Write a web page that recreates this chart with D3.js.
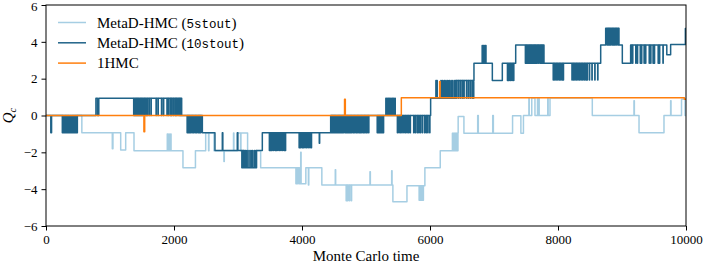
<!DOCTYPE html>
<html>
<head>
<meta charset="utf-8">
<script src="https://cdn.jsdelivr.net/npm/d3@7"></script>
<style>
  html, body { margin: 0; padding: 0; background: #fff; }
  svg text { font-family: "Liberation Serif", "Times New Roman", serif; fill: #000; }
  .mono { font-family: "Liberation Mono", "DejaVu Sans Mono", monospace; }
</style>
</head>
<body>
<div id="chart"></div>
<script>
'use strict'

// step breakpoints [time, Q] for each run
let steps5 = [
  [0, 0], [560, -0.93], [1167, -1.88], [1245, -0.93], [1375, -1.91], [2140, -2.84],
  [2335, -1.91], [2495, -0.93], [2625, -1.91], [2990, -0.95], [3150, -1.91],
  [3354, -2.84], [3960, -3.7], [4060, -2.84], [4310, -3.78], [5420, -4.68],
  [5640, -3.82], [5920, -2.84], [6160, -1.91], [6350, -0.97], [6440, -0.05],
  [6530, -0.97], [7290, -0.02], [7420, -0.97], [7460, 0], [7590, 0.95], [7640, 0],
  [7875, 0.95], [8536, 0], [9266, -0.93], [9656, 0], [9930, 0.88], [9985, 0]
]
let steps10 = [
  [0, 0], [255, -0.93], [490, 0], [780, 0.93], [805, 0], [825, 0.93], [2120, 0],
  [2443, -0.93], [2640, -1.9], [3100, -2.84], [3290, -1.9], [3380, -0.93],
  [4448, 0], [6010, 0.93], [6400, 1.9], [6687, 2.84], [6974, 1.9], [7130, 2.84],
  [7339, 3.83], [7781, 2.84], [8667, 3.83], [8745, 4.74], [8953, 3.83], [9005, 2.84],
  [9135, 3.83], [9700, 3.3], [9760, 3.85], [9990, 4.72], [9998, 3.9]
]
let steps1 = [[0, 0], [5552, 0.97], [9975, 0.88]]

// short excursions: [level, width, times]
let spikes5 = [
  [-1.8, 10, [1036]],
  [-1.0, 6, [1895, 1920, 1948]],
  [-1.91, 6, [2540]],
  [-2.5, 6, [2780]],
  [-0.95, 6, [2930]],
  [-1.91, 6, [3040]],
  [-3.7, 5, [3905, 3925, 3950]],
  [-2.0, 6, [3980]],
  [-3.78, 6, [4100]],
  [-2.95, 6, [4520]],
  [-4.63, 5, [4690, 4712, 4740, 4770]],
  [-3.05, 6, [5062]],
  [-3.0, 6, [5401]],
  [-4.6, 5, [5830, 5850, 5872, 5892]],
  [-1.91, 5, [6355, 6375, 6395, 6415, 6432]],
  [0, 10, [6745, 6980]],
  [0.95, 6, [7545, 7680, 7700, 7840]],
  [0.8, 6, [9187, 9760]]
]
let spikes10 = [
  [-0.93, 12, [75]],
  [0, 6, [262, 280, 298, 315, 335, 352, 372, 390, 410, 428, 446, 462, 478]],
  [0, 5, [1370, 1390, 1408, 1428, 1448, 1470, 1490, 1512, 1535, 1558, 1580]],
  [0, 4, [1610, 1640, 1720, 1750, 1805, 1835]],
  [0, 4, [1890, 1915, 1945, 1962, 1990, 2018, 2035, 2062, 2085, 2105]],
  [-0.93, 5, [2205, 2225, 2245, 2265, 2290, 2310, 2335, 2355, 2378, 2398, 2415]],
  [-0.93, 8, [2755, 2990]],
  [-2.84, 5, [3060, 3080]],
  [-1.9, 4, [3115, 3140, 3170, 3200, 3225, 3255, 3280]],
  [-1.9, 4, [3490, 3510, 3530, 3555, 3580, 3600, 3622, 3648, 3670, 3695, 3720, 3740]],
  [-1.75, 4, [3955, 3975, 4000, 4020, 4045, 4070, 4095, 4122, 4145]],
  [-1.5, 6, [4270]],
  [-0.93, 5, [4455, 4472, 4490, 4508, 4525, 4545, 4565, 4585, 4605, 4625, 4645, 4670,
    4690, 4710, 4730, 4750, 4772, 4795, 4815, 4840, 4862, 4885, 4905, 4925,
    4950, 4972, 4995, 5015, 5040]],
  [-0.93, 5, [5175, 5192, 5212, 5230, 5250, 5270]],
  [0.93, 5, [5310, 5328, 5348, 5368, 5388, 5410, 5430, 5452]],
  [-0.93, 4, [5490, 5515, 5540, 5562, 5590, 5615, 5640, 5665, 5690,
    5745, 5770, 5800, 5825, 5850, 5880, 5915, 5940, 5965, 5995]],
  [1.9, 5, [6092, 6108]],
  [1.9, 4, [6170, 6195, 6222, 6248, 6275, 6300, 6328, 6355, 6385]],
  [0.93, 4, [6415, 6445, 6475, 6505, 6530, 6570, 6600, 6630, 6660, 6680]],
  [3.8, 5, [6815, 6835, 6855, 6870]],
  [1.9, 5, [7210, 7232, 7255, 7280, 7305]],
  [2.84, 5, [7490, 7508, 7528, 7548, 7568, 7588, 7608, 7628, 7650, 7672, 7695, 7718, 7740, 7762]],
  [1.93, 4, [7925, 7948, 7970, 7995, 8020, 8042, 8065, 8082,
    8218, 8240, 8262, 8285, 8310, 8335, 8360, 8385, 8410, 8435, 8455,
    8490, 8530, 8575, 8620]],
  [3.83, 5, [8765, 8785, 8805, 8825, 8848, 8870, 8892, 8915, 8938]],
  [2.84, 4, [9140, 9165, 9215, 9240, 9285, 9305, 9345, 9368, 9425, 9448, 9485, 9505, 9565, 9585, 9640]]
]
let spikes1 = [
  [-0.88, 12, [1530]],
  [0.88, 12, [4665]],
  [1.85, 8, [6150]]
]

let seriesNames = ['5stout', '10stout', '1HMC']
let seriesColors = ['#a6cee3', '#1f6388', '#ff7f0e']
let xTicks = [0, 2000, 4000, 6000, 8000, 10000]
let yTicks = [-6, -4, -2, 0, 2, 4, 6]

let W = 705, H = 264
let plot = {left: 46, right: 686, top: 5, bottom: 226}

let x = d3.scaleLinear().domain([0, 10000]).range([plot.left, plot.right])
let y = d3.scaleLinear().domain([-6, 6]).range([plot.bottom, plot.top])

function baseAt(steps, t) {
  let v = steps[0][1]
  for (let s of steps) { if (s[0] <= t) v = s[1] }
  return v
}

function build(steps, spikes) {
  let pts = steps.map(s => [s[0], s[1]])
  spikes.forEach(([lvl, w, times]) => {
    times.forEach(t => {
      pts.push([t, lvl])
      pts.push([t + w, baseAt(steps, t)])
    })
  })
  pts.sort((a, b) => a[0] - b[0])
  pts.push([10000, pts[pts.length - 1][1]])
  return pts
}

let data = [build(steps5, spikes5), build(steps10, spikes10), build(steps1, spikes1)]

let svg = d3.select('#chart').append('svg')
  .attr('width', W)
  .attr('height', H)

svg.append('defs').append('clipPath').attr('id', 'clip')
  .append('rect')
  .attr('x', plot.left).attr('y', plot.top)
  .attr('width', plot.right - plot.left).attr('height', plot.bottom - plot.top)

let line = d3.line()
  .x(d => x(d[0]))
  .y(d => y(d[1]))
  .curve(d3.curveStepAfter)

svg.append('g').attr('clip-path', 'url(#clip)')
  .selectAll('path').data(data)
  .enter().append('path')
  .attr('d', line)
  .attr('fill', 'none')
  .attr('stroke', (d, i) => seriesColors[i])
  .attr('stroke-width', 1.5)
  .attr('stroke-linejoin', 'round')

// axes
let xAxis = svg.append('g')
  .attr('transform', `translate(0, ${plot.bottom})`)
  .call(d3.axisBottom(x).tickValues(xTicks).tickSize(4.5).tickPadding(4).tickFormat(d3.format('d')))
let yAxis = svg.append('g')
  .attr('transform', `translate(${plot.left}, 0)`)
  .call(d3.axisLeft(y).tickValues(yTicks).tickSize(4.5).tickPadding(4)
    .tickFormat(d => d < 0 ? '\u2212' + Math.abs(d) : d))

;[xAxis, yAxis].forEach(a => {
  a.select('.domain').remove()
  a.selectAll('line').attr('stroke', '#000').attr('stroke-width', 1)
  a.selectAll('text')
    .attr('fill', '#000')
    .style('font-family', '"Liberation Serif", serif')
    .style('font-size', '13px')
})
// keep the top label inside the frame
yAxis.selectAll('text').filter(d => d === 6).attr('dy', '0.45em')

svg.append('rect')
  .attr('x', plot.left).attr('y', plot.top)
  .attr('width', plot.right - plot.left).attr('height', plot.bottom - plot.top)
  .attr('fill', 'none')
  .attr('stroke', '#000')
  .attr('stroke-width', 1)

svg.append('text')
  .attr('x', (plot.left + plot.right) / 2)
  .attr('y', 261)
  .attr('text-anchor', 'middle')
  .style('font-size', '15px')
  .text('Monte Carlo time')

let ylab = svg.append('text')
  .attr('transform', `translate(13, ${y(0)}) rotate(-90)`)
  .attr('text-anchor', 'middle')
  .style('font-size', '15px')
ylab.append('tspan').style('font-style', 'italic').text('Q')
ylab.append('tspan').style('font-style', 'italic').style('font-size', '10.5px').attr('dy', 3).text('c')

// legend
let legend = svg.append('g').attr('class', 'legend')
let rows = legend.selectAll('g').data(seriesNames)
  .enter().append('g')
  .attr('transform', (d, i) => `translate(58, ${22.5 + i * 20.3})`)

rows.append('line')
  .attr('x1', 0).attr('x2', 28)
  .attr('stroke', (d, i) => seriesColors[i])
  .attr('stroke-width', 1.5)

rows.append('text')
  .attr('x', 39)
  .attr('dy', '0.35em')
  .style('font-size', '15px')
  .attr('fill', (d, i) => seriesColors[i])
  .each(function (d) {
    let t = d3.select(this)
    if (d === '1HMC') {
      t.text(d)
    } else {
      t.append('tspan').text('MetaD-HMC (')
      t.append('tspan').attr('class', 'mono').style('font-size', '12.5px').text(d)
      t.append('tspan').text(')')
    }
  })
</script>
</body>
</html>
